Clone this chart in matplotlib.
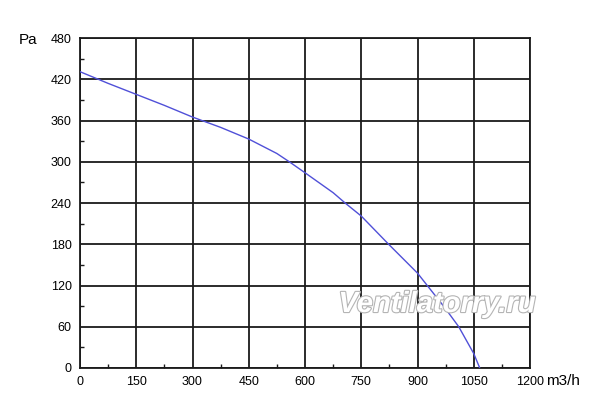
import matplotlib
matplotlib.use("Agg")
import matplotlib.pyplot as plt
import matplotlib.patheffects as pe
from matplotlib.ticker import MultipleLocator

flow = [0, 75, 150, 225, 300, 375, 450, 525, 558, 600, 675, 707, 750, 823, 900, 926, 971, 1010, 1050, 1066]
pressure = [431, 414, 398, 382, 365, 350, 333, 312, 300, 284, 255, 240, 221, 180, 138, 120, 89, 60, 21, 0]
xticks = [0, 150, 300, 450, 600, 750, 900, 1050, 1200]
yticks = [0, 60, 120, 180, 240, 300, 360, 420, 480]

plt.rcParams['font.family'] = ['Liberation Sans', 'DejaVu Sans']
fig = plt.figure(figsize=(6, 4.12), dpi=100)
ax = fig.add_axes([80/600, 44/412, 450/600, 330/412])
ax.plot(flow, pressure, color='#5050d8', lw=1.0, zorder=3)
ax.set_xlim(0, 1200)
ax.set_ylim(0, 480)
ax.set_xticks(xticks)
ax.set_yticks(yticks)
ax.xaxis.set_minor_locator(MultipleLocator(75))
ax.yaxis.set_minor_locator(MultipleLocator(30))
ax.grid(True, which='major', color='#1a1a1a', lw=1.3)
ax.tick_params(which='major', length=0, labelsize=9, pad=6)
ax.tick_params(which='minor', direction='in', length=3, width=1, color='#1a1a1a')
for s in ax.spines.values():
    s.set_color('#1a1a1a')
    s.set_linewidth(1.3)
fig.text(19/600, 1 - 40/412, 'Pa', fontsize=11, ha='left', va='center')
fig.text(546/600, 1 - 381/412, 'm3/h', fontsize=11, ha='left', va='center')
fig.text(437/600, 1 - 304/412, 'Ventilatorry.ru', fontsize=21, style='italic', weight='bold',
         ha='center', va='center', color='white', zorder=5,
         path_effects=[pe.Stroke(linewidth=1.6, foreground='#b4b4b4'), pe.Normal()])
fig.savefig('out.png', dpi=100)
